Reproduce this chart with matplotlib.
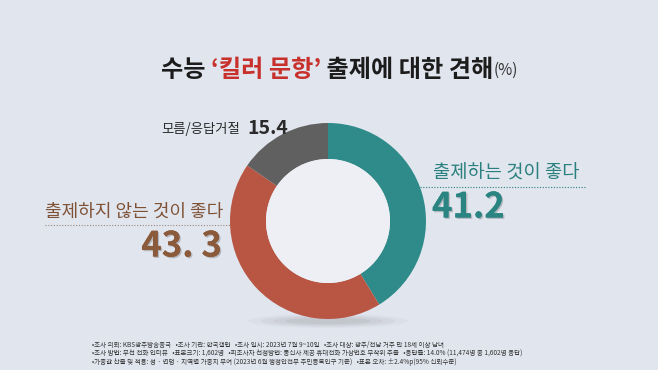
import matplotlib
matplotlib.use("Agg")
import matplotlib.pyplot as plt
from matplotlib.patches import Circle, Ellipse
import matplotlib.patheffects as pe

# ---- data ----
categories = ["출제하는 것이 좋다", "출제하지 않는 것이 좋다", "모름/응답거절"]
values = [41.2, 43.3, 15.4]
value_labels = ["41.2", "43. 3", "15.4"]
colors = ["#2e8b89", "#b85643", "#606060"]
title_parts = ["수능 ", "‘킬러 문항’", " 출제에 대한 견해", "(%)"]
footnotes = [
    "•조사 의뢰: KBS광주방송총국   •조사 기관: 한국갤럽   •조사 일시: 2023년 7월 9~10일   •조사 대상: 광주/전남 거주 만 18세 이상 남녀",
    "•조사 방법: 무선 전화 인터뷰   •표본크기: 1,602명   •피조사자 선정방법: 통신사 제공 휴대전화 가상번호 무작위 추출   •응답률: 14.0% (11,474명 중 1,602명 응답)",
    "•가중값 산출 및 적용: 성 · 연령 · 지역별 가중치 부여 (2023년 6월 행정안전부 주민등록인구 기준)   •표본 오차: ±2.4%p(95% 신뢰수준)",
]

FONT = ["Noto Sans CJK KR", "DejaVu Sans"]
plt.rcParams['font.family'] = FONT

W, H = 658, 370
fig = plt.figure(figsize=(W / 100, H / 100), dpi=100)
fig.patch.set_facecolor("#e1e5ee")
ax = fig.add_axes([0, 0, 1, 1])
ax.set_facecolor("#e1e5ee")

def Y(y):
    return H - y

cx, cy, R, Rin = 328, 221, 98, 62

# shadow under donut
for i, a in enumerate([0.04, 0.05, 0.06, 0.07]):
    ax.add_patch(Ellipse((cx, Y(cy + R + 2)), 160 - i * 25, 14 - i * 2.5,
                         facecolor="#555", edgecolor="none", alpha=a, zorder=1))

wedges, _ = ax.pie(values, colors=colors, startangle=90, counterclock=False,
                   radius=R, center=(cx, Y(cy)),
                   wedgeprops=dict(width=R - Rin, edgecolor="none"))
for w in wedges:
    w.set_zorder(2)
ax.add_patch(Circle((cx, Y(cy)), Rin, facecolor="#edeff4", edgecolor="none", zorder=3))

ax.set_xlim(0, W)
ax.set_ylim(0, H)
ax.set_aspect("auto")
ax.axis("off")

# ---- title ----
tx = 161
ty = Y(70)
sizes = [17.4, 17.4, 17.4, 11]
tcolors = ["#1c1c1c", "#c8302c", "#1c1c1c", "#333333"]
weights = ["heavy", "heavy", "heavy", "normal"]
renderer = fig.canvas.get_renderer()
for part, s, c, wgt in zip(title_parts, sizes, tcolors, weights):
    t = ax.text(tx, ty, part, fontsize=s, color=c, fontweight=wgt,
                ha="left", va="center", zorder=5)
    bb = t.get_window_extent(renderer=renderer)
    tx += bb.width

shadow = [pe.withSimplePatchShadow(offset=(1, -1), shadow_rgbFace="#000", alpha=0.2), pe.Normal()]

# ---- teal label (right) ----
ax.text(433, Y(173), categories[0], fontsize=13.5, color="#2a807e", fontweight="medium",
        ha="left", va="center", zorder=5)
ax.plot([420, 586], [Y(187), Y(187)], linestyle=(0, (1, 1.5)), color="#2a807e",
        linewidth=0.8, zorder=4)
ax.text(432, Y(207), value_labels[0], fontsize=25, fontweight="heavy", color="#2a8481",
        ha="left", va="center", zorder=5, path_effects=shadow)

# ---- red label (left) ----
ax.text(45, Y(212), categories[1], fontsize=13, color="#7f5236", fontweight="medium",
        ha="left", va="center", zorder=5)
ax.plot([45, 231], [Y(225), Y(225)], linestyle=(0, (1, 1.5)), color="#9a8a80",
        linewidth=0.8, zorder=4)
ax.text(222, Y(246), value_labels[1], fontsize=25, fontweight="heavy", color="#8a5a3b",
        ha="right", va="center", zorder=5, path_effects=shadow)

# ---- gray label ----
ax.text(240, Y(129), categories[2], fontsize=9.6, color="#2a2a2a",
        ha="right", va="center", zorder=5)
ax.text(247, Y(129), value_labels[2], fontsize=14, fontweight="heavy", color="#2a2a2a",
        ha="left", va="center", zorder=5)

# ---- footnotes ----
for i, line in enumerate(footnotes):
    ax.text(92, Y(345 + i * 8.3), line, fontsize=4.7, color="#333333",
            ha="left", va="center", zorder=5)

fig.savefig("out.png", dpi=100, facecolor=fig.get_facecolor())
